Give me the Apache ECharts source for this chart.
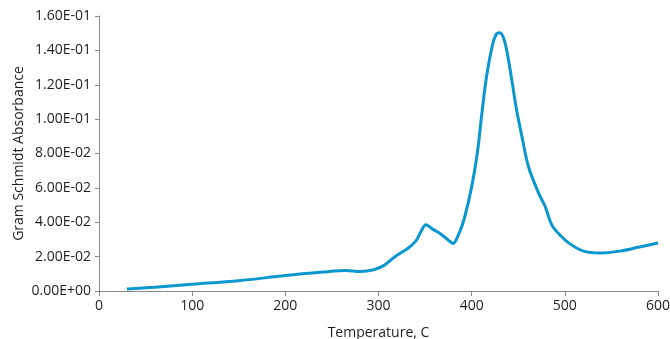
<!DOCTYPE html>
<html>
<head>
<meta charset="utf-8">
<script src="https://cdn.jsdelivr.net/npm/echarts@6/dist/echarts.min.js"></script>
<style>
  html, body { margin: 0; padding: 0; background: #fff; }
  #canvas { width: 670px; height: 339px; }
</style>
</head>
<body>
<div id="canvas"></div>
<script>
// temperature (C) and absorbance
var temps = [30, 60, 100, 150, 200, 240, 265, 280, 295, 306, 318, 331, 340, 345, 351, 358, 366, 375, 380, 386, 392, 400, 406, 411, 416, 422, 426, 430, 434, 438, 443, 448, 454, 461, 472, 479, 486, 495, 505, 520, 538, 559, 580, 600];
var absorbance = [0.0012, 0.0022, 0.0039, 0.006, 0.009, 0.011, 0.012, 0.0114, 0.0124, 0.0149, 0.0201, 0.0246, 0.029, 0.034, 0.0385, 0.036, 0.0335, 0.0295, 0.0277, 0.033, 0.042, 0.0606, 0.080, 0.1035, 0.1249, 0.1424, 0.1490, 0.1502, 0.1475, 0.1390, 0.1230, 0.1060, 0.0898, 0.0723, 0.0568, 0.049, 0.0385, 0.0324, 0.0276, 0.0232, 0.0221, 0.0232, 0.0256, 0.0279];
var yTickLabels = ['0.00E+00', '2.00E-02', '4.00E-02', '6.00E-02', '8.00E-02', '1.00E-01', '1.20E-01', '1.40E-01', '1.60E-01'];

var points = temps.map(function (t, i) { return [t, absorbance[i]]; });

var myChart = echarts.init(document.getElementById('canvas'));

var axisGray = '#898989';
var textColor = '#1f1f1f';
var font = '"Open Sans", "Noto Sans", sans-serif';

var option = {
    animation: false,
    grid: { left: 99, right: 12, top: 16, bottom: 48, containLabel: false, outerBoundsMode: 'none' },
    xAxis: {
        type: 'value',
        min: 0, max: 600, interval: 100,
        name: 'Temperature, C',
        nameLocation: 'middle',
        nameGap: 35,
        nameMoveOverlap: false,
        nameTextStyle: { color: textColor, fontSize: 14, fontFamily: font },
        axisLine: { lineStyle: { color: axisGray } },
        axisTick: { show: true, length: 5, lineStyle: { color: axisGray } },
        axisLabel: { color: textColor, fontSize: 14, fontFamily: font, margin: 8 },
        splitLine: { show: false }
    },
    yAxis: {
        type: 'value',
        min: 0, max: 0.16, interval: 0.02,
        name: 'Gram Schmidt Absorbance',
        nameLocation: 'middle',
        nameGap: 73,
        nameMoveOverlap: false,
        nameTextStyle: { color: textColor, fontSize: 14, fontFamily: font },
        axisLine: { show: true, lineStyle: { color: axisGray } },
        axisTick: { show: true, length: 4, lineStyle: { color: axisGray } },
        axisLabel: {
            color: textColor, fontSize: 14, fontFamily: font, margin: 8,
            formatter: function (v) { return yTickLabels[Math.round(v / 0.02)]; }
        },
        splitLine: { show: false }
    },
    series: [{
        type: 'line',
        data: points,
        smooth: 0.35,
        showSymbol: false,
        lineStyle: { color: '#0a97cf', width: 3 }
    }]
};

myChart.setOption(option);
</script>
</body>
</html>
